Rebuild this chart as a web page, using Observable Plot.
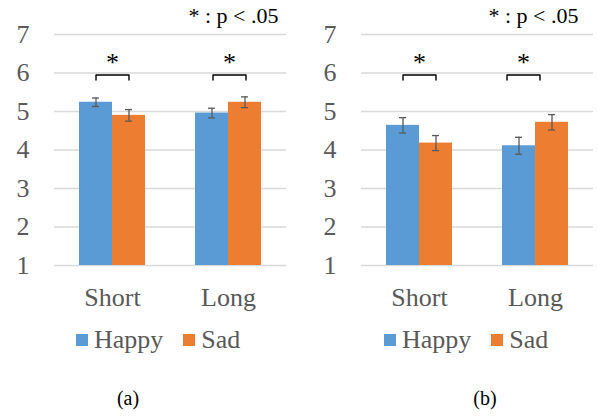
<!DOCTYPE html>
<html><head><meta charset="utf-8">
<script src="https://cdn.jsdelivr.net/npm/d3@7"></script>
<script src="https://cdn.jsdelivr.net/npm/@observablehq/plot@0.6"></script>
<style>
body{margin:0;background:#fff;}
#wrap{display:flex;width:598px;height:416px;font-family:"Liberation Serif","Times New Roman",serif;overflow:hidden;}
.panel{position:relative;width:299px;height:416px;}
.panel svg{display:block;}
.leg{position:absolute;top:323px;}
.leg .lg-swatch{margin-right:20px !important;}
.leg .lg-swatch > svg{margin-right:6px !important;}
.cap{position:absolute;top:388px;font-size:20px;line-height:20px;color:#000;transform:translateX(-50%);}
</style></head>
<body>
<div id="wrap"></div>
<script>
const groups = ["Short", "Long"];
const series = ["Happy", "Sad"];
const colors = ["#5B9BD5", "#ED7D31"];
const yTicks = [1, 2, 3, 4, 5, 6, 7];
// order: Short-Happy, Short-Sad, Long-Happy, Long-Sad
const meanA = [5.24, 4.90, 4.96, 5.24];
const errA  = [0.11, 0.15, 0.125, 0.14];
const meanB = [4.64, 4.18, 4.11, 4.72];
const errB  = [0.20, 0.195, 0.22, 0.20];
const sigA = [true, true];
const sigB = [true, true];
const bracketLevel = 5.95;
const bracketDrop = 5.82;
const starLevel = 6.26;
const note = "* : p < .05";
const captions = ["(a)", "(b)"];

const FONT = '"Liberation Serif","Times New Roman",serif';

function panel(mean, err, sig, o) {
  const rows = [];
  groups.forEach((g, i) => series.forEach((s, j) => {
    const m = mean[i * 2 + j], e = err[i * 2 + j];
    rows.push({group: g, series: s, mean: m, lo: m - e, hi: m + e});
  }));
  const sigGroups = groups.filter((g, i) => sig[i]);
  const brackets = sigGroups.flatMap(g => [
    {group: g, series: "Happy", y: bracketDrop},
    {group: g, series: "Happy", y: bracketLevel},
    {group: g, series: "Sad", y: bracketLevel},
    {group: g, series: "Sad", y: bracketDrop}
  ]);
  const starMarks = (gs, dx) => Plot.text(gs, {fx: d => d, y: () => starLevel, text: () => "*", fontSize: 26, fill: "black", dx});
  const chart = Plot.plot({
    width: 299, height: 315,
    marginTop: 34, marginBottom: 50, marginLeft: o.ml, marginRight: o.mr,
    style: {fontFamily: FONT, background: "white", overflow: "visible"},
    fx: {domain: groups, padding: 0, label: null, axis: null},
    x: {domain: series, paddingInner: 0, paddingOuter: 0.74, axis: null},
    y: {domain: [1, 7], label: null},
    color: {domain: series, range: colors},
    marks: [
      Plot.gridY(yTicks, {stroke: "#d9d9d9", strokeOpacity: 1, strokeWidth: 1.3}),
      Plot.axisY(yTicks, {tickSize: 0, tickPadding: 25, fontSize: 26, fill: "#595959", label: null}),
      Plot.axisFx({anchor: "bottom", tickSize: 0, tickPadding: 22, fontSize: 26, fill: "#595959", label: null}),
      Plot.barY(rows, {fx: "group", x: "series", y1: 1, y2: "mean", fill: "series"}),
      Plot.ruleX(rows, {fx: "group", x: "series", y1: "lo", y2: "hi", stroke: "#595959", strokeWidth: 1.3}),
      Plot.tickY(rows, {fx: "group", x: "series", y: "lo", stroke: "#595959", strokeWidth: 1.3, insetLeft: 13, insetRight: 13}),
      Plot.tickY(rows, {fx: "group", x: "series", y: "hi", stroke: "#595959", strokeWidth: 1.3, insetLeft: 13, insetRight: 13}),
      Plot.line(brackets.filter(d => d.group !== "Long"), {fx: "group", x: "series", y: "y", stroke: "black", strokeWidth: 1.4}),
      Plot.line(brackets.filter(d => d.group === "Long"), {fx: "group", x: "series", y: "y", stroke: "black", strokeWidth: 1.4, dx: o.longDx}),
      starMarks(sigGroups.filter(g => g !== "Long"), 0),
      starMarks(sigGroups.filter(g => g === "Long"), o.longDx),
      Plot.text([{group: "Long", t: note}], {fx: "group", text: "t", frameAnchor: "top-right", lineAnchor: "bottom", dy: -12, dx: o.noteDx, fontSize: 22, fill: "black"})
    ]
  });
  const div = document.createElement("div");
  div.className = "panel";
  div.appendChild(chart);
  const leg = document.createElement("div");
  leg.className = "leg";
  leg.style.left = o.legLeft + "px";
  leg.appendChild(Plot.legend({
    color: {domain: series, range: colors},
    legend: "swatches", swatchSize: 12, className: "lg",
    style: {fontSize: "26px", fontFamily: FONT, color: "#595959"}
  }));
  div.appendChild(leg);
  const cap = document.createElement("div");
  cap.className = "cap";
  cap.style.left = o.capX + "px";
  cap.textContent = o.caption;
  div.appendChild(cap);
  return div;
}

const wrap = document.getElementById("wrap");
wrap.appendChild(panel(meanA, errA, sigA, {ml: 53, mr: 13, noteDx: -8, longDx: 1, legLeft: 76, capX: 128, caption: captions[0]}));
wrap.appendChild(panel(meanB, errB, sigB, {ml: 61, mr: 5, noteDx: -15, longDx: -12, legLeft: 85, capX: 186, caption: captions[1]}));
</script>
</body></html>
